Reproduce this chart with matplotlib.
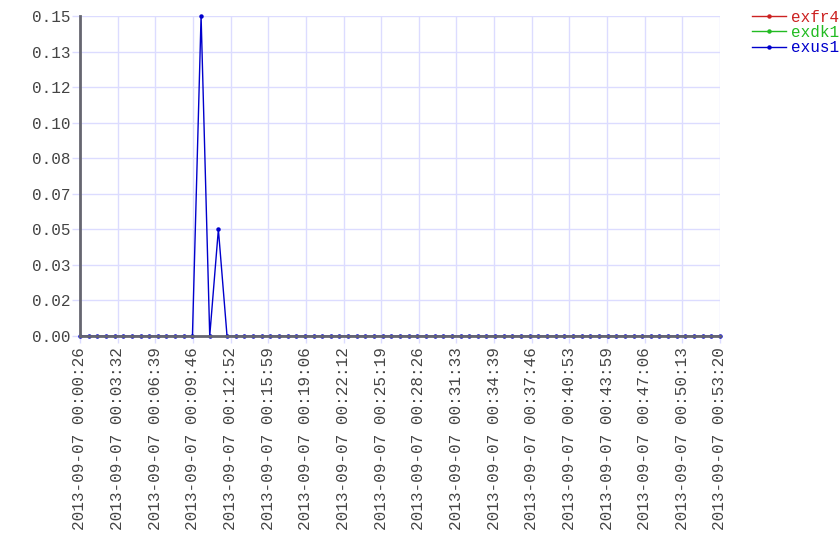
import numpy as np
import pandas as pd
import matplotlib
matplotlib.use('Agg')
import matplotlib.pyplot as plt
import matplotlib.dates as mdates

plt.rcParams['font.family'] = ['Liberation Mono', 'DejaVu Sans Mono']

# 75 samples between 00:00:26 and 00:53:20
times = pd.date_range('2013-09-07 00:00:26', '2013-09-07 00:53:20', periods=75)

exus1 = [0.0] * 75
exus1[14] = 0.15
exus1[16] = 0.05
# the other two hosts have no samples, they only show in the legend
exfr4 = []
exdk1 = []

series = [('exfr4', exfr4, '#cc2222'),
          ('exdk1', exdk1, '#22bb22'),
          ('exus1', exus1, '#0000cc')]

fig = plt.figure(figsize=(8.4, 5.6), dpi=100)
ax = fig.add_axes([80/840, 1-336/560, 640/840, 320/560])

for name, vals, col in series:
    ax.plot(times[:len(vals)], vals, color=col, lw=1, marker='o', ms=2.2,
            label=name, clip_on=False)

ax.set_xlim(times[0], times[-1])
ax.set_ylim(0, 0.15)

ticks = pd.date_range(times[0], times[-1], periods=18)
ax.set_xticks(ticks)
ax.xaxis.set_major_formatter(mdates.DateFormatter('%Y-%m-%d %H:%M:%S'))
yt = np.linspace(0, 0.15, 10)
ax.set_yticks(yt)
ax.set_yticklabels(['%.2f' % v for v in yt])

ax.grid(True, color='#dcdcff', lw=1)
ax.set_axisbelow(True)
for s in ['top', 'right']:
    ax.spines[s].set_visible(False)
for s in ['left', 'bottom']:
    ax.spines[s].set_color('#666670')
    ax.spines[s].set_linewidth(2)
ax.tick_params(axis='x', rotation=90, colors='#dcdcff', labelcolor='#444444',
               labelsize=11.5, length=5, width=1, pad=3)
ax.tick_params(axis='y', colors='#dcdcff', labelcolor='#444444',
               labelsize=11.5, length=6, width=1, pad=1)

leg = ax.legend(loc='upper left', bbox_to_anchor=(1.04, 1.04), frameon=False,
                fontsize=11.5, handlelength=2.1, handletextpad=0.35,
                labelspacing=0.02, borderaxespad=0)
for t, (_, _, col) in zip(leg.get_texts(), series):
    t.set_color(col)

fig.savefig('out.png', dpi=100)
